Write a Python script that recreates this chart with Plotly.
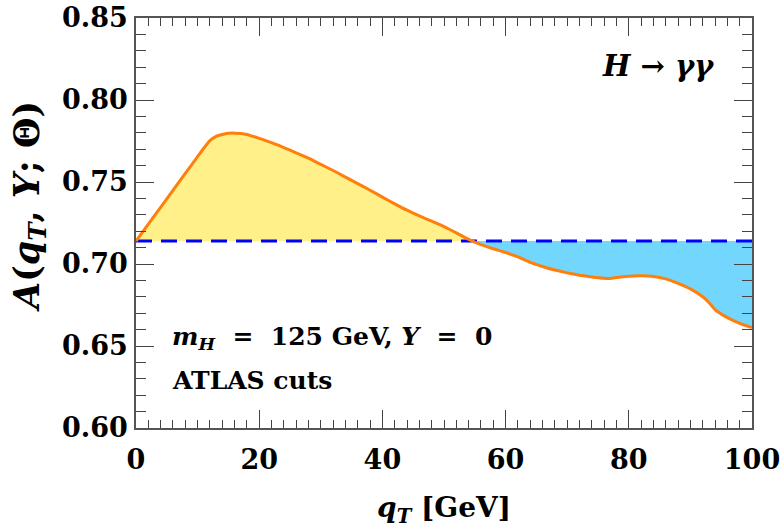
import numpy as np
import plotly.graph_objects as go

# Acceptance A(qT, Y=0; Theta) for H -> gamma gamma with ATLAS cuts
QT = [0, 2, 4, 6, 8, 10, 11, 12, 13, 14, 15, 16, 17, 18, 20, 22, 24, 26, 28, 30,
      32, 34, 36, 38, 40, 42, 44, 46, 48, 50, 52, 54, 56, 58, 60, 62, 64, 66, 68,
      70, 72, 74, 76, 77, 78, 80, 82, 84, 86, 88, 90, 92, 93, 94, 95, 96, 98, 100]
ACC = [0.7140, 0.7243, 0.7346, 0.7449, 0.7552, 0.7655, 0.7706, 0.7752, 0.7778,
       0.7790, 0.7797, 0.7798, 0.7796, 0.7790, 0.7766, 0.7740, 0.7710, 0.7678,
       0.7645, 0.7607, 0.7570, 0.7530, 0.7490, 0.7450, 0.7408, 0.7367, 0.7328,
       0.7293, 0.7261, 0.7228, 0.7190, 0.7150, 0.7118, 0.7093, 0.7070, 0.7043,
       0.7010, 0.6985, 0.6963, 0.6946, 0.6932, 0.6921, 0.6913, 0.6912, 0.6918,
       0.6926, 0.6928, 0.6924, 0.6909, 0.6882, 0.6848, 0.6800, 0.6765, 0.6722,
       0.6695, 0.6673, 0.6638, 0.6612]
# Acceptance at qT = 0 (reference level)
A0 = 0.714

X_TICKS = [0, 20, 40, 60, 80, 100]
Y_TICKS = [0.60, 0.65, 0.70, 0.75, 0.80, 0.85]

# Insert the crossing points so the two fill regions meet cleanly
qt = np.array(QT, dtype=float)
acc = np.array(ACC, dtype=float)
xs, ys = [qt[0]], [acc[0]]
for i in range(1, len(qt)):
    d0, d1 = acc[i - 1] - A0, acc[i] - A0
    if d0 * d1 < 0:
        t = d0 / (d0 - d1)
        xs.append(qt[i - 1] + t * (qt[i] - qt[i - 1]))
        ys.append(A0)
    xs.append(qt[i])
    ys.append(acc[i])
xs = np.array(xs)
ys = np.array(ys)
base = np.full_like(xs, A0)
above = np.maximum(ys, A0)
below = np.minimum(ys, A0)

FONT = "DejaVu Serif"
ORANGE = "#ff7f0a"
YELLOW = "#fff08a"
CYAN = "#72d6fd"

fig = go.Figure()
fig.add_trace(go.Scatter(x=xs, y=base, mode="lines", line=dict(width=0),
                         hoverinfo="skip", showlegend=False))
fig.add_trace(go.Scatter(x=xs, y=above, mode="lines", line=dict(width=0),
                         fill="tonexty", fillcolor=YELLOW, showlegend=False))
fig.add_trace(go.Scatter(x=xs, y=base, mode="lines", line=dict(width=0),
                         hoverinfo="skip", showlegend=False))
fig.add_trace(go.Scatter(x=xs, y=below, mode="lines", line=dict(width=0),
                         fill="tonexty", fillcolor=CYAN, showlegend=False))
fig.add_trace(go.Scatter(x=[0, 100], y=[A0, A0], mode="lines",
                         line=dict(color="#0000ff", width=3, dash="16px,9px"),
                         showlegend=False))
fig.add_trace(go.Scatter(x=qt, y=acc, mode="lines",
                         line=dict(color=ORANGE, width=3, shape="spline", smoothing=0.4),
                         showlegend=False))

axis_common = dict(
    showline=True, linecolor="#555555", linewidth=1.5, mirror="allticks",
    ticks="inside", ticklen=18, tickwidth=1.2, tickcolor="#444444",
    showgrid=False, zeroline=False, automargin=False,
    tickfont=dict(family=FONT, size=27, color="black", weight="bold"),
)

fig.update_xaxes(
    range=[0, 100], tickvals=X_TICKS, ticklabelstandoff=7,
    ticklabeloverflow="allow",
    minor=dict(dtick=2, tick0=0, ticks="inside", ticklen=8, tickwidth=1.2,
               tickcolor="#444444", showgrid=False),
    title=dict(text="<i>q</i><sub><i>T</i></sub> [GeV]", standoff=32,
               font=dict(family=FONT, size=28, color="black", weight="bold")),
    **axis_common,
)
fig.update_yaxes(
    range=[0.60, 0.85], tickvals=Y_TICKS, tickformat=".2f", ticklabelstandoff=1,
    minor=dict(dtick=0.01, tick0=0.6, ticks="inside", ticklen=10, tickwidth=1.2,
               tickcolor="#444444", showgrid=False),
    **axis_common,
)

# y-axis title
fig.add_annotation(xref="paper", yref="paper", x=-0.174, y=0.541,
                   xanchor="center", yanchor="middle", showarrow=False,
                   textangle=-90,
                   text="<i>A</i>(<i>q</i><sub><i>T</i></sub>, <i>Y</i>; Θ)",
                   font=dict(family=FONT, size=35, color="black", weight="bold"))

fig.add_annotation(xref="paper", yref="paper", x=0.943, y=0.883,
                   xanchor="right", yanchor="middle", showarrow=False,
                   text="<i>H</i> → <i>γγ</i>",
                   font=dict(family=FONT, size=29, color="black", weight="bold"))
fig.add_annotation(xref="paper", yref="paper", x=0.055, y=0.22,
                   xanchor="left", yanchor="middle", showarrow=False,
                   text="<i>m</i><sub><i>H</i></sub>&nbsp; = &nbsp;125 GeV, <i>Y</i>&nbsp; = &nbsp;0",
                   font=dict(family=FONT, size=25, color="black", weight="bold"))
fig.add_annotation(xref="paper", yref="paper", x=0.055, y=0.117,
                   xanchor="left", yanchor="middle", showarrow=False,
                   text="ATLAS cuts",
                   font=dict(family=FONT, size=25, color="black", weight="bold"))

fig.update_layout(
    width=780, height=528,
    margin=dict(l=136, r=28, t=18, b=100),
    paper_bgcolor="white", plot_bgcolor="white",
)

fig.write_html("out.html")
